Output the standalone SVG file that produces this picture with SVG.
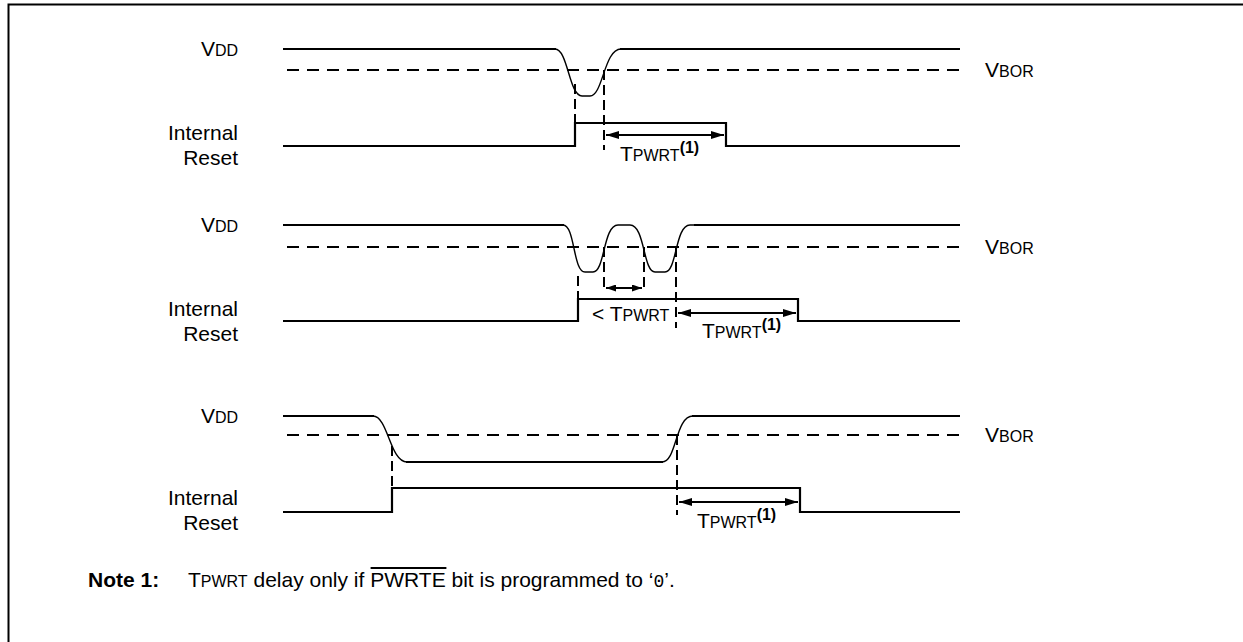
<svg xmlns="http://www.w3.org/2000/svg" width="1243" height="642" viewBox="0 0 1243 642">
<style>
text{font-family:"Liberation Sans",Arial,sans-serif;font-size:21px;fill:#000}
.sc{font-size:16px}
.sup{font-size:16px;font-weight:bold}
.r{text-anchor:end}
.sig{fill:none;stroke:#000;stroke-width:2.2}
.crv{fill:none;stroke:#000;stroke-width:1.4}
.th{fill:none;stroke:#000;stroke-width:2;stroke-dasharray:12 8}
.vd{fill:none;stroke:#000;stroke-width:2;stroke-dasharray:10 5}
.ar{fill:none;stroke:#000;stroke-width:2;marker-start:url(#ah);marker-end:url(#ah)}
.ars{fill:none;stroke:#000;stroke-width:2;marker-start:url(#ahs);marker-end:url(#ahs)}
</style>
<defs>
<marker id="ah" viewBox="0 0 13 8" refX="13" refY="4" markerWidth="13" markerHeight="8" markerUnits="userSpaceOnUse" orient="auto-start-reverse"><path d="M0,0 L13,4 L0,8 z" fill="#000"/></marker>
<marker id="ahs" viewBox="0 0 10 7" refX="10" refY="3.5" markerWidth="10" markerHeight="7" markerUnits="userSpaceOnUse" orient="auto-start-reverse"><path d="M0,0 L10,3.5 L0,7 z" fill="#000"/></marker>
</defs>
<rect width="1243" height="642" fill="#fff"/>
<path d="M8.5,642 V4.5 H1243" fill="none" stroke="#000" stroke-width="2"/>

<g id="panel1">
<g id="p1-labels">
<text class="r" x="238" y="56">V<tspan class="sc">DD</tspan></text>
<text class="r" x="238" y="140">Internal</text>
<text class="r" x="238" y="165">Reset</text>
<text x="985" y="77">V<tspan class="sc">BOR</tspan></text>
</g>
<g id="p1-vdd">
<path class="sig" d="M283,49 H556 M620,49 H960"/>
<path class="crv" d="M555,49 C568,49 569,96 582,96 H590 C603,96 604,49 621,49"/>
</g>
<path id="p1-vbor" class="th" d="M287,70 H960"/>
<path id="p1-reset" class="sig" d="M283,146 H575 V123 H726 V146 H960"/>
</g>

<g id="panel2">
<g id="p2-labels">
<text class="r" x="238" y="232">V<tspan class="sc">DD</tspan></text>
<text class="r" x="238" y="316">Internal</text>
<text class="r" x="238" y="341">Reset</text>
<text x="985" y="254">V<tspan class="sc">BOR</tspan></text>
</g>
<g id="p2-vdd">
<path class="sig" d="M283,225 H564 M694,225 H960"/>
<path class="crv" d="M563,225 C575,225 573,272 585,272 H593 C605,272 603,225 618,225 H630 C645,225 643,272 655,272 H665 C677,272 675,225 690,225 H695"/>
</g>
<path id="p2-vbor" class="th" d="M287,247 H960"/>
<path id="p2-reset" class="sig" d="M283,321 H578 V299 H798 V321 H960"/>
</g>

<g id="panel3">
<g id="p3-labels">
<text class="r" x="238" y="423">V<tspan class="sc">DD</tspan></text>
<text class="r" x="238" y="505">Internal</text>
<text class="r" x="238" y="530">Reset</text>
<text x="985" y="442">V<tspan class="sc">BOR</tspan></text>
</g>
<g id="p3-vdd">
<path class="sig" d="M283,416 H374 M406,462 H663 M692,416 H960"/>
<path class="crv" d="M373,416 C388,416 390,462 407,462 M662,462 C677,462 675,416 693,416"/>
</g>
<path id="p3-vbor" class="th" d="M287,435 H960"/>
<path id="p3-reset" class="sig" d="M283,512 H392 V488 H800 V512 H960"/>
</g>

<g id="connectors">
<path class="vd" d="M575,84 V146 M604,70 V150"/>
<path class="ar" d="M606,135 H724"/>
<path class="vd" d="M578,276 V321 M604,247 V292 M644,247 V292 M676,247 V328"/>
<path class="ars" d="M606,288 H642"/>
<path class="ar" d="M678,313 H796"/>
<path class="vd" d="M392,446 V512 M677,435 V515"/>
<path class="ar" d="M679,502 H798"/>
</g>

<g id="timing-labels">
<text x="620" y="161">T<tspan class="sc">PWRT</tspan><tspan class="sup" dy="-8">(1)</tspan></text>
<text x="592" y="321">&lt; T<tspan class="sc">PWRT</tspan></text>
<text x="702" y="338">T<tspan class="sc">PWRT</tspan><tspan class="sup" dy="-8">(1)</tspan></text>
<text x="697" y="528">T<tspan class="sc">PWRT</tspan><tspan class="sup" dy="-8">(1)</tspan></text>
</g>

<g id="note">
<text x="88" y="587"><tspan font-weight="bold">Note  1:</tspan></text>
<text x="188" y="587">T<tspan class="sc">PWRT</tspan> delay only if PWRTE bit is programmed to ‘<tspan font-family="Liberation Mono, monospace" font-size="18">0</tspan>’.</text>
<line x1="370.6" y1="568" x2="446.4" y2="568" stroke="#000" stroke-width="1.8"/>
</g>
</svg>
